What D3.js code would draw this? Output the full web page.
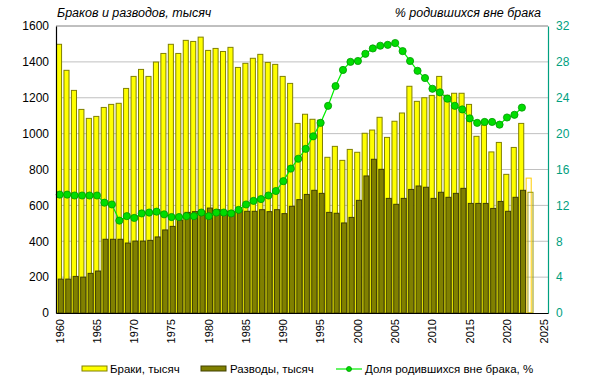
<!DOCTYPE html>
<html>
<head>
<meta charset="utf-8">
<script src="https://cdn.jsdelivr.net/npm/d3@7"></script>
<style>
  body { margin: 0; background: #fff; }
  svg { font-family: "Liberation Sans", Arial, sans-serif; }
</style>
</head>
<body>
<div id="chart"></div>
<script>
const years = d3.range(1960, 2026);
const marriages = [1498, 1353, 1241, 1135, 1085, 1096, 1146, 1163, 1169, 1252,
  1319, 1358, 1319, 1399, 1447, 1498, 1447, 1520, 1514, 1538,
  1464, 1475, 1458, 1481, 1369, 1392, 1420, 1442, 1397, 1386,
  1319, 1280, 1057, 1108, 1080, 1075, 868, 929, 851, 912,
  896, 1002, 1020, 1091, 979, 1069, 1115, 1264, 1180, 1200,
  1213, 1319, 1214, 1225, 1225, 1163, 985, 1048, 898, 951,
  773, 923, 1057, 752, null, null];
const divorces = [189, 189, 204, 200, 221, 234, 411, 411, 411, 390,
  401, 401, 405, 424, 463, 483, 518, 561, 565, 566,
  585, 576, 567, 567, 572, 567, 567, 576, 565, 576,
  554, 595, 632, 661, 684, 667, 561, 556, 502, 533,
  628, 764, 857, 801, 639, 606, 639, 689, 708, 701,
  639, 673, 645, 667, 695, 611, 611, 611, 583, 622,
  567, 645, 684, 673, null, null];
const outOfWedlock = [13.2, 13.2, 13.1, 13.1, 13.1, 13.1, 12.3, 12.1, 10.3, 10.8,
  10.6, 11.1, 11.2, 11.3, 11.0, 10.7, 10.7, 10.8, 10.8, 11.2,
  10.8, 11.2, 11.2, 11.1, 11.5, 12.1, 12.5, 12.7, 13.1, 13.6,
  14.7, 16.1, 17.2, 18.3, 19.7, 21.2, 23.1, 25.3, 27.1, 28.0,
  28.1, 28.9, 29.5, 29.8, 29.9, 30.1, 29.2, 28.1, 27.0, 26.2,
  25.0, 24.6, 23.9, 23.1, 22.7, 21.7, 21.2, 21.3, 21.3, 21.0,
  21.8, 22.1, 22.9, null, null, null];
const partialYear = 2023;
const leftTicks = d3.range(0, 1601, 200);
const rightTicks = d3.range(0, 33, 4);
const xLabels = d3.range(1960, 2026, 5);

const width = 589, height = 389;
const margin = {top: 26, right: 41, bottom: 76, left: 56};
const teal = "#00a080";

const svg = d3.select("#chart").append("svg")
  .attr("width", width).attr("height", height);

const x = d3.scaleBand()
  .domain(years)
  .range([margin.left, width - margin.right])
  .paddingInner(0).paddingOuter(0);
const y = d3.scaleLinear().domain([0, 1600]).range([height - margin.bottom, margin.top]);
const y2 = d3.scaleLinear().domain([0, 32]).range([height - margin.bottom, margin.top]);

const bw = x.bandwidth();
const barW = bw * 0.68;
const shift = bw * 0.24;

// gridlines
svg.append("g")
  .selectAll("line")
  .data(leftTicks.filter(d => d > 0))
  .join("line")
  .attr("x1", margin.left).attr("x2", width - margin.right)
  .attr("y1", d => y(d)).attr("y2", d => y(d))
  .attr("stroke", d => d === 1600 ? "#808080" : "#c0c0c0")
  .attr("stroke-width", 1);

// marriages
svg.append("g")
  .selectAll("rect")
  .data(years.map((yr, i) => ({yr, v: marriages[i]})).filter(d => d.v != null))
  .join("rect")
  .attr("x", d => x(d.yr) + 0.5)
  .attr("y", d => y(d.v))
  .attr("width", barW)
  .attr("height", d => y(0) - y(d.v))
  .attr("fill", d => d.yr === partialYear ? "none" : "#ffff00")
  .attr("stroke", d => d.yr === partialYear ? "#ffcc00" : "#808000")
  .attr("stroke-width", 1);

// divorces
svg.append("g")
  .selectAll("rect")
  .data(years.map((yr, i) => ({yr, v: divorces[i]})).filter(d => d.v != null))
  .join("rect")
  .attr("x", d => x(d.yr) + 0.5 + shift)
  .attr("y", d => y(d.v))
  .attr("width", barW)
  .attr("height", d => y(0) - y(d.v))
  .attr("fill", d => d.yr === partialYear ? "none" : "#808000")
  .attr("stroke", d => d.yr === partialYear ? "#999900" : "#404000")
  .attr("stroke-width", 1);

// share born out of wedlock
const pts = years.map((yr, i) => ({yr, v: outOfWedlock[i]})).filter(d => d.v != null);
const cx = d => x(d.yr) + bw / 2;
svg.append("path")
  .datum(pts)
  .attr("fill", "none")
  .attr("stroke", "#00ee00")
  .attr("stroke-width", 1.2)
  .attr("d", d3.line().x(cx).y(d => y2(d.v)));
svg.append("g")
  .selectAll("circle")
  .data(pts)
  .join("circle")
  .attr("cx", cx)
  .attr("cy", d => y2(d.v))
  .attr("r", 3.6)
  .attr("fill", "#00dd00")
  .attr("stroke", "#009900")
  .attr("stroke-width", 0.8);

// axes
const left = svg.append("g")
  .attr("transform", `translate(${margin.left},0)`)
  .call(d3.axisLeft(y).tickValues(leftTicks).tickFormat(d3.format("d")).tickSize(0).tickPadding(7));
left.select(".domain").attr("stroke", "#000").attr("stroke-width", 1.2);
left.selectAll("text").attr("font-size", "12px").attr("fill", "#000").attr("font-family", "Liberation Sans, Arial, sans-serif");

const right = svg.append("g")
  .attr("transform", `translate(${width - margin.right},0)`)
  .call(d3.axisRight(y2).tickValues(rightTicks).tickSize(0).tickPadding(8));
right.select(".domain").attr("stroke", teal).attr("stroke-width", 1.2);
right.selectAll("text").attr("font-size", "12px").attr("fill", teal).attr("font-family", "Liberation Sans, Arial, sans-serif");

const bottom = svg.append("g")
  .attr("transform", `translate(0,${height - margin.bottom})`)
  .call(d3.axisBottom(x).tickValues(xLabels).tickSize(0).tickPadding(0));
bottom.select(".domain").attr("stroke", "#000").attr("stroke-width", 1.2);
bottom.selectAll("text")
  .attr("font-size", "11px")
  .attr("fill", "#000")
  .attr("font-family", "Liberation Sans, Arial, sans-serif")
  .attr("text-anchor", "end")
  .attr("transform", "rotate(-90)")
  .attr("x", -6).attr("y", 0).attr("dy", "0.35em");

// titles
svg.append("text")
  .attr("x", 57).attr("y", 17)
  .attr("font-size", "12.5px").attr("font-style", "italic")
  .text("Браков и разводов, тысяч");
svg.append("text")
  .attr("x", 541).attr("y", 17)
  .attr("text-anchor", "end")
  .attr("font-size", "12.5px").attr("font-style", "italic")
  .text("% родившихся вне брака");

// legend
const ly = 369;
const legend = svg.append("g").attr("font-size", "11.5px");
legend.append("rect").attr("x", 82).attr("y", ly - 3).attr("width", 25).attr("height", 5)
  .attr("fill", "#ffff00").attr("stroke", "#808000");
legend.append("text").attr("x", 110).attr("y", ly + 4).text("Браки, тысяч");
legend.append("rect").attr("x", 201).attr("y", ly - 3).attr("width", 25).attr("height", 5)
  .attr("fill", "#808000").attr("stroke", "#404000");
legend.append("text").attr("x", 230).attr("y", ly + 4).text("Разводы, тысяч");
legend.append("line").attr("x1", 336).attr("x2", 362).attr("y1", ly).attr("y2", ly)
  .attr("stroke", "#00ee00").attr("stroke-width", 1.2);
legend.append("circle").attr("cx", 349).attr("cy", ly).attr("r", 2.5)
  .attr("fill", "#00dd00").attr("stroke", "#009900").attr("stroke-width", 0.8);
legend.append("text").attr("x", 365).attr("y", ly + 4).text("Доля родившихся вне брака, %");
</script>
</body>
</html>
